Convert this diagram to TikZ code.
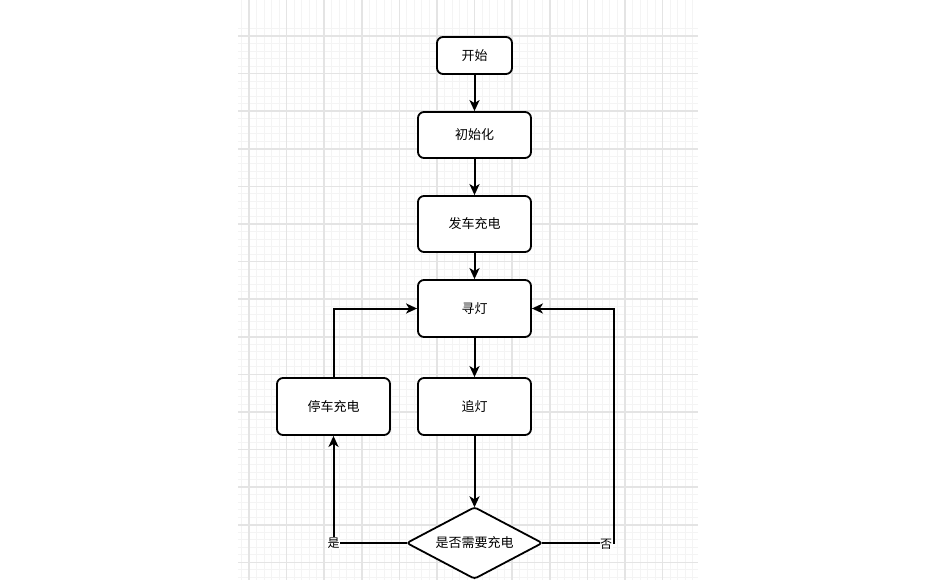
\documentclass[tikz,border=0pt]{standalone}
\usepackage{fontspec}
\setmainfont{Noto Sans CJK SC}
\usetikzlibrary{arrows.meta,calc}
\definecolor{gmajor}{HTML}{E4E4E4}
\definecolor{gminor}{HTML}{F4F4F4}
\tikzset{
  box/.style={draw=black, line width=1.8pt, rounded corners=6pt, fill=white, inner sep=0pt, font=\fontsize{13pt}{15pt}\selectfont},
  conn/.style={line width=2pt, draw=black, -{Stealth[length=11pt,width=10pt,inset=3pt]}},
  lbl/.style={fill=white, inner sep=0.5pt, font=\fontsize{12pt}{14pt}\selectfont},
  minorline/.style={draw=gminor, line width=1pt},
  majorline/.style={draw=gmajor, line width=1.6pt},
}
\begin{document}
\begin{tikzpicture}[x=1pt,y=-1pt]
\useasboundingbox (0,0) rectangle (936,585);
\fill[white] (0,0) rectangle (936,585);
% grid
\begin{scope}
\clip (238,0) rectangle (698,580);
\foreach \i in {-2,...,62} {
  \draw[minorline] ({249+7.52*\i},0) -- ({249+7.52*\i},580);
}
\foreach \j in {-1,...,78} {
  \draw[minorline] (238,{36+7.52*\j}) -- (698,{36+7.52*\j});
}
\foreach \i in {-1,...,12} {
  \draw[majorline] ({249+37.6*\i},0) -- ({249+37.6*\i},580);
}
\foreach \j in {-1,...,15} {
  \draw[majorline] (238,{36+37.6*\j}) -- (698,{36+37.6*\j});
}
\end{scope}
% nodes
\node[box, minimum width=75pt, minimum height=37pt] (start) at (474.5,55.5) {开始};
\node[box, minimum width=113pt, minimum height=46pt] (init) at (474.5,135) {初始化};
\node[box, minimum width=113pt, minimum height=56pt] (fache) at (474.5,224) {发车充电};
\node[box, minimum width=113pt, minimum height=57pt] (xun) at (474.5,308.5) {寻灯};
\node[box, minimum width=113pt, minimum height=57pt] (zhui) at (474.5,406.5) {追灯};
\node[box, minimum width=113pt, minimum height=57pt] (ting) at (333.5,406.5) {停车充电};
\node[inner sep=0pt, minimum width=135pt, minimum height=71pt] (dec) at (474.5,543) {};
\draw[line width=1.8pt, rounded corners=3pt, fill=white] (dec.west) -- (dec.north) -- (dec.east) -- (dec.south) -- cycle;
\node[font=\fontsize{13pt}{15pt}\selectfont] (dectext) at (dec.center) {是否需要充电};
\coordinate (r) at (614,308.5);
% connectors
\draw[conn] (start) -- (init);
\draw[conn] (init) -- (fache);
\draw[conn] (fache) -- (xun);
\draw[conn] (xun) -- (zhui);
\draw[conn] (zhui) -- (dec.north);
\draw[conn] (dec.west) -| node[pos=0.5, lbl] (yes) {是} (ting.south);
\draw[conn] (ting.north) |- (xun.west);
\draw[conn] (dec.east) -- (dec.east -| r) -- (r) -- (xun.east);
\node[lbl] (no) at (606,544) {否};
\end{tikzpicture}
\end{document}
